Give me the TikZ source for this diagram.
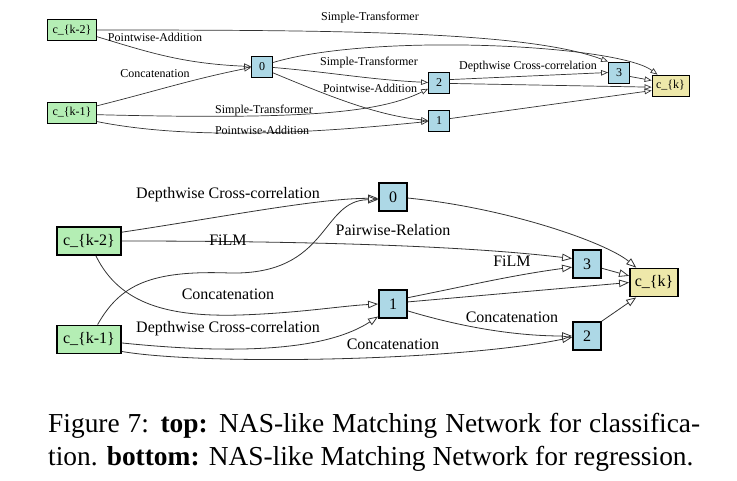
\documentclass[tikz,border=0pt]{standalone}
\usepackage{fontspec}
\setmainfont{Liberation Serif}
\usetikzlibrary{arrows.meta}
\definecolor{cgreen}{HTML}{B4EEB4}
\definecolor{cblue}{HTML}{ADD8E6}
\definecolor{cyellow}{HTML}{EEE8AA}
\begin{document}
\begin{tikzpicture}[x=1pt,y=-1pt,
  tbox/.style={draw=black, line width=0.8pt, inner sep=0pt, minimum height=21pt, font=\fontsize{12}{14}\selectfont},
  tsq/.style={tbox, fill=cblue, minimum width=21pt},
  tin/.style={tbox, fill=cgreen, minimum width=49pt},
  tout/.style={tbox, fill=cyellow, minimum width=37pt},
  bbox/.style={draw=black, line width=1.8pt, inner sep=0pt, minimum height=28pt, font=\fontsize{16}{19}\selectfont},
  bsq/.style={bbox, fill=cblue, minimum width=28pt},
  bin/.style={bbox, fill=cgreen, minimum width=64pt},
  bout/.style={bbox, fill=cyellow, minimum width=48pt},
  tedge/.style={draw=black!80, line width=0.7pt, -{Triangle[open,length=7pt,width=5.5pt]}},
  bedge/.style={draw=black!80, line width=0.8pt, -{Triangle[open,length=10pt,width=7.5pt]}},
  tlab/.style={inner sep=0pt, font=\fontsize{12}{14}\selectfont},
  blab/.style={inner sep=0pt, font=\fontsize{16}{19}\selectfont},
  captext/.style={inner sep=0pt, anchor=base west, font=\fontsize{27.4}{33}\selectfont}]
\useasboundingbox (0,0) rectangle (737,480);
% ---------- top graph ----------
\node[tin] (c2) at (72,30) {c\_\{k-2\}};
\node[tin] (c1) at (72,112.5) {c\_\{k-1\}};
\node[tsq] (t0) at (262,66.5) {0};
\node[tsq] (t2) at (439,82.5) {2};
\node[tsq] (t1) at (439,120.5) {1};
\node[tsq] (t3) at (619,72.5) {3};
\node[tout] (tk) at (670.5,85.5) {c\_\{k\}};

\draw[tedge] (c2.-15) .. controls +(50,15) and +(-70,-3) .. (t0.west);
\draw[tedge] (c1.15) .. controls +(60,-15) and +(-60,12) .. (t0.-175);
\draw[tedge] (c2.east) .. controls +(250,0) and +(-80,-30) .. (t3.north west);
\draw[tedge] (t0.20) .. controls +(100,-30) and +(-40,-30) .. (tk.140);
\draw[tedge] (t0.-5) .. controls +(60,5) and +(-60,-3) .. (t2.west);
\draw[tedge] (t0.-30) .. controls +(60,25) and +(-50,-5) .. (t1.west);
\draw[tedge] (c1.-5) .. controls +(200,5) and +(-50,25) .. (t2.-150);
\draw[tedge] (c1.-20) .. controls +(100,20) and +(-100,10) .. (t1.-175);
\draw[tedge] (t2.15) -- (t3.west);
\draw[tedge] (t2.-5) -- (tk.-175);
\draw[tedge] (t1.10) -- (tk.-165);
\draw[tedge] (t3.-20) -- (tk.165);

\node[tlab] (l1) at (155,37) {Pointwise-Addition};
\node[tlab] (l2) at (155,74) {Concatenation};
\node[tlab] (l3) at (370,18) {Simple-Transformer};
\node[tlab] (l4) at (369,63) {Simple-Transformer};
\node[tlab] (l5) at (370,88) {Pointwise-Addition};
\node[tlab] (l6) at (264,111) {Simple-Transformer};
\node[tlab] (l7) at (262,130) {Pointwise-Addition};
\node[tlab] (l8) at (528,67) {Depthwise Cross-correlation};

% ---------- bottom graph ----------
\node[bin] (b2) at (89,241) {c\_\{k-2\}};
\node[bin] (b1) at (89,339.5) {c\_\{k-1\}};
\node[bsq] (m0) at (393,197) {0};
\node[bsq] (m1) at (393,304) {1};
\node[bsq] (m3) at (587,264) {3};
\node[bsq] (m2) at (587,336) {2};
\node[bout] (mk) at (654,282.5) {c\_\{k\}};

\draw[bedge] (b2.15) .. controls +(100,-15) and +(-60,0) .. (m0.-175);
\draw[bedge] (b2.east) .. controls +(200,0) and +(-100,-12) .. (m3.160);
\draw[bedge] (b1.60) .. controls (120,285) and (150,270) .. (230,273)
   .. controls (330,275) and (320,200) .. (m0.-170);
\draw[bedge] (b2.-65) .. controls (120,305) and (170,317) .. (240,315)
   .. controls (300,313) and (340,306) .. (m1.west);
\draw[bedge] (b1.-6) .. controls (250,356) and (330,348) .. (m1.-140);
\draw[bedge] (b1.-20) .. controls (200,365) and (450,362) .. (m2.-175);
\draw[bedge] (m1.23) .. controls +(60,-12) and +(-60,8) .. (m3.-168);
\draw[bedge] (m1.8) -- (mk.west);
\draw[bedge] (m1.-25) .. controls +(50,15) and +(-60,0) .. (m2.west);
\draw[bedge] (m0.-4) .. controls +(100,10) and +(-30,-25) .. (mk.140);
\draw[bedge] (m3.-16) -- (mk.165);
\draw[bedge] (m2.north east) -- (mk.-140);

\node[blab] (k1) at (228,195) {Depthwise Cross-correlation};
\node[blab] (k2) at (393,230) {Pairwise-Relation};
\node[blab] (k3) at (228,240) {FiLM};
\node[blab] (k4) at (228,294) {Concatenation};
\node[blab] (k5) at (228,329) {Depthwise Cross-correlation};
\node[blab] (k6) at (393,344) {Concatenation};
\node[blab] (k7) at (512,261) {FiLM};
\node[blab] (k8) at (512,317) {Concatenation};

% ---------- caption ----------
\node[captext] (cap1) at (48,432) {\hbox to 652pt{Figure 7: \textbf{top:} NAS-like Matching Network for classifica-}};
\node[captext] (cap2) at (48,465) {tion. \textbf{bottom:} NAS-like Matching Network for regression.};
\end{tikzpicture}
\end{document}
